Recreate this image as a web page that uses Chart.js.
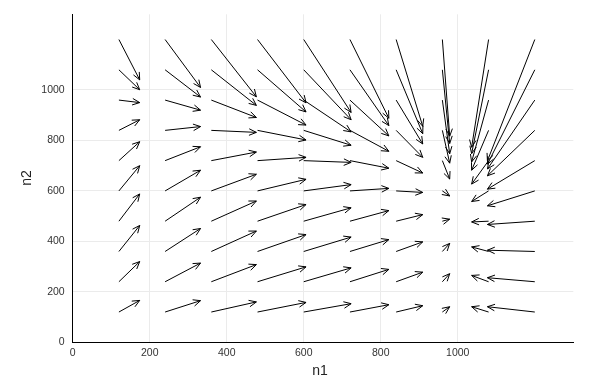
<!DOCTYPE html>
<html><head><meta charset="utf-8">
<script src="https://cdn.jsdelivr.net/npm/chart.js@4.4.0/dist/chart.umd.min.js"></script>
<style>html,body{margin:0;padding:0;background:#fff}</style>
</head><body>
<canvas id="c" width="604" height="388" style="width:604px;height:388px;display:block"></canvas>
<script>
// grid of arrow tails
const n1 = [120, 240, 360, 480, 600, 720, 840, 960, 1080, 1200];
const n2 = [120, 240, 360, 480, 600, 720, 840, 960, 1080, 1200];
// n1-component of each arrow, one value per n1 column
const dn1 = [54, 92, 117, 126, 123, 101, 69, 19, -44, -123];
// n2-component of each arrow, one list per n1 column (rows n2 = 120 ... 1200)
const dn2_120  = [46, 80, 103, 108, 100, 75, 42, -10, -79, -160];
const dn2_240  = [45, 74, 91, 95, 82, 55, 15, -40, -108, -190];
const dn2_360  = [40, 68, 81, 80, 66, 34, -8, -69, -141, -227];
const dn2_480  = [38, 59, 67, 66, 46, 13, -38, -99, -167, -251];
const dn2_600  = [33, 55, 57, 53, 25, -7, -59, -126, -198, -289];
const dn2_720  = [29, 49, 47, 42, 10, -30, -83, -142, -221, -312];
const dn2_840  = [25, 38, 38, 26, -6, -49, -107, -174, -253, -344];
const dn2_960  = [21, 32, 32, 8, -20, -73, -130, -213, -292, -383];
const dn2_1080 = [21, 25, 18, -3, -42, -93, -158, -245, -332, -427];
const dn2_1200 = [21, 16, 5, -13, -59, -113, -180, -273, -374, -481];
const dn2 = [dn2_120, dn2_240, dn2_360, dn2_480, dn2_600, dn2_720, dn2_840, dn2_960, dn2_1080, dn2_1200];
const xTicks = [0, 200, 400, 600, 800, 1000];
const yTicks = [0, 200, 400, 600, 800, 1000];
const xLabel = 'n1';
const yLabel = 'n2';

const datasets = [];
n1.forEach((x0, i) => {
  n2.forEach((y0, j) => {
    datasets.push({
      data: [{x: x0, y: y0}, {x: x0 + dn1[i], y: y0 + dn2[i][j]}],
      showLine: true, borderColor: '#000', borderWidth: 1,
      pointRadius: 0, pointHoverRadius: 0, fill: false, tension: 0, clip: false
    });
  });
});

const arrowHeads = {
  id: 'arrowHeads',
  afterDatasetsDraw(chart) {
    const {ctx} = chart; const xs = chart.scales.x, ys = chart.scales.y;
    ctx.save(); ctx.strokeStyle = '#000'; ctx.lineWidth = 1;
    chart.data.datasets.forEach(ds => {
      const p0 = ds.data[0], p1 = ds.data[1];
      const x0 = xs.getPixelForValue(p0.x), y0 = ys.getPixelForValue(p0.y);
      const x1 = xs.getPixelForValue(p1.x), y1 = ys.getPixelForValue(p1.y);
      const ang = Math.atan2(y1 - y0, x1 - x0);
      const L = 8, a = 0.42;
      ctx.beginPath();
      ctx.moveTo(x1 - L * Math.cos(ang - a), y1 - L * Math.sin(ang - a));
      ctx.lineTo(x1, y1);
      ctx.lineTo(x1 - L * Math.cos(ang + a), y1 - L * Math.sin(ang + a));
      ctx.stroke();
    });
    ctx.restore();
  }
};

const axisTitles = {
  id: 'axisTitles',
  afterDraw(chart) {
    const {ctx} = chart;
    ctx.save();
    ctx.fillStyle = '#222';
    ctx.font = '14px "Liberation Sans", Arial, sans-serif';
    ctx.textAlign = 'center'; ctx.textBaseline = 'middle';
    ctx.fillText(xLabel, 320, 371);
    ctx.translate(27, 178); ctx.rotate(-Math.PI / 2);
    ctx.fillText(yLabel, 0, 0);
    ctx.restore();
  }
};

const tickFont = {family: '"Liberation Sans", Arial, sans-serif', size: 10.5};
new Chart(document.getElementById('c'), {
  type: 'scatter',
  data: {datasets},
  options: {
    responsive: false, animation: false, devicePixelRatio: 1,
    layout: {padding: {top: 14, right: 30.7, left: 0, bottom: 0}},
    plugins: {legend: {display: false}, tooltip: {enabled: false}},
    events: [],
    scales: {
      x: {
        type: 'linear', min: 0, max: 1300,
        afterBuildTicks: s => { s.ticks = xTicks.map(v => ({value: v})); },
        afterFit: s => { s.height = 45.7; },
        grid: {color: '#ebebeb', lineWidth: 1, drawTicks: false},
        border: {display: true, color: '#000', width: 1},
        ticks: {font: tickFont, color: '#333', padding: 5, maxRotation: 0, autoSkip: false, callback: v => String(v)}
      },
      y: {
        type: 'linear', min: 0, max: 1300,
        afterBuildTicks: s => { s.ticks = yTicks.map(v => ({value: v})); },
        afterFit: s => { s.width = 72.7; },
        grid: {color: '#ebebeb', lineWidth: 1, drawTicks: false},
        border: {display: true, color: '#000', width: 1},
        ticks: {font: tickFont, color: '#333', padding: 8, autoSkip: false, callback: v => String(v)}
      }
    }
  },
  plugins: [arrowHeads, axisTitles]
});
</script>
</body></html>
